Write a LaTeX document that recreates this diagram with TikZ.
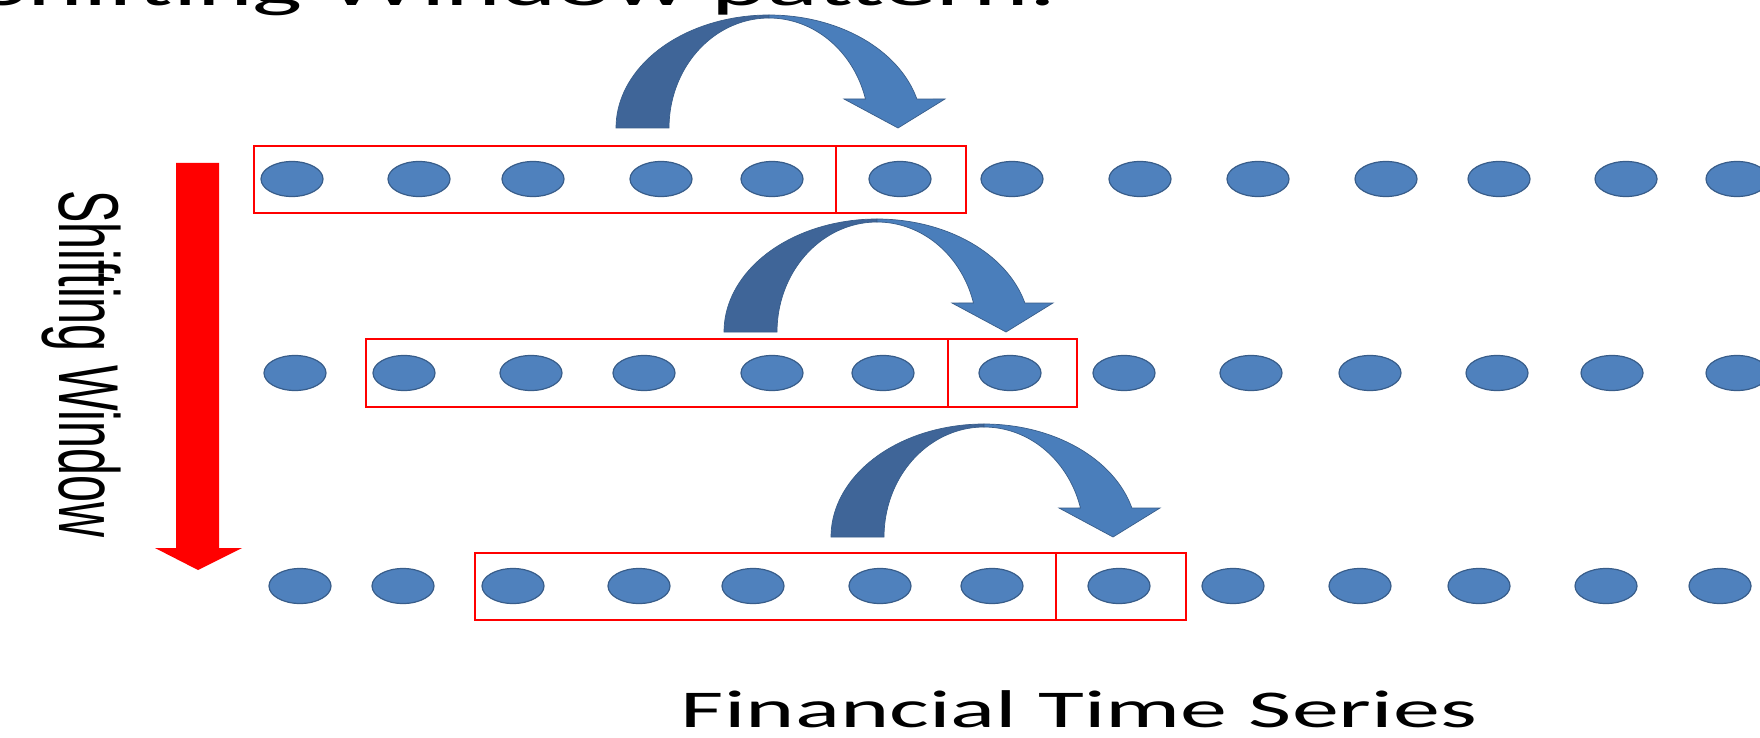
\documentclass[tikz,border=0pt]{standalone}
\usepackage{fontspec}
\setmainfont{Carlito}
\newfontfamily\narrowsans{Liberation Sans}
\usetikzlibrary{shapes.geometric}

\definecolor{ptfill}{HTML}{4F81BD}
\definecolor{ptline}{HTML}{385D8A}
\definecolor{arrowdark}{HTML}{3F6598}
\definecolor{arrowlight}{HTML}{4A7EBB}
\definecolor{winred}{HTML}{FF0000}

% the whole slide is flattened vertically
\newcommand\squashtext[1]{\scalebox{1}[0.565]{#1}}

\tikzset{
  pt/.style={ellipse, fill=ptfill, draw=ptline, line width=1.2pt,
             minimum width=62pt, minimum height=35pt, inner sep=0pt},
  winbox/.style={draw=winred, line width=1.8pt},
  hopdark/.style={fill=arrowdark, draw=ptline, line width=0.7pt},
  hoplight/.style={fill=arrowlight, draw=ptline, line width=0.7pt},
}

% curved "hop" arrow: #1 = centre x of the arch, #2 = baseline y of the tail
\newcommand\hoparrow[2]{%
  \filldraw[hopdark]
    plot[domain=180:270, samples=40] ({#1+153*cos(\x)},{#2+113*sin(\x)})
    -- plot[domain=270:180, samples=40] ({#1+100*cos(\x)},{#2+110*sin(\x)})
    -- cycle;
  \filldraw[hoplight]
    plot[domain=270:345.13, samples=40] ({#1+153*cos(\x)},{#2+113*sin(\x)})
    -- (#1+176,#2-29) -- (#1+129,#2) -- (#1+75,#2-29)
    -- plot[domain=344.71:270, samples=40] ({#1+100*cos(\x)},{#2+110*sin(\x)})
    -- cycle;
}

\begin{document}
\begin{tikzpicture}[x=1pt, y=-1pt]
  \useasboundingbox (0,0) rectangle (1760,738);
  \clip (0,0) rectangle (1760,738);
  \fill[white] (0,0) rectangle (1760,738);

  % three rows of the time series
  \foreach \px [count=\i] in {292,419,533,661,772,900,1012,1140,1258,1386,1499,1626,1737}
    \node[pt] (a\i) at (\px,179) {};
  \foreach \px [count=\i] in {295,404,531,644,772,883,1010,1124,1251,1370,1497,1612,1737}
    \node[pt] (b\i) at (\px,373) {};
  \foreach \px [count=\i] in {300,403,513,639,753,880,992,1119,1233,1360,1479,1606,1720}
    \node[pt] (c\i) at (\px,586) {};

  % input window and target box of each row
  \draw[winbox] (254,146) rectangle (966,213);
  \draw[winbox] (836,146) -- (836,213);
  \draw[winbox] (366,339) rectangle (1077,407);
  \draw[winbox] (948,339) -- (948,407);
  \draw[winbox] (475,553) rectangle (1186,620);
  \draw[winbox] (1056,553) -- (1056,620);

  % hop arrows above each window
  \hoparrow{769}{128}
  \hoparrow{877}{332}
  \hoparrow{984}{537}

  % heading
  \node[anchor=base west, inner sep=0pt]
    (heading) at (-21,6) {\squashtext{\fontsize{106}{106}\selectfont Shifting Window pattern.}};

  % downward shift arrow and its label
  \fill[winred] (176,163) -- (219,163) -- (219,548) -- (242,548) -- (198,570)
    -- (155,548) -- (176,548) -- cycle;
  \node[rotate=-90, anchor=base west, inner sep=0pt]
    (shiftlabel) at (59,190)
    {\narrowsans\fontsize{85}{85}\selectfont\scalebox{0.57}[1]{Shifting Window}};

  % axis caption
  \node[anchor=base, inner sep=0pt]
    (caption) at (1079,727) {\squashtext{\fontsize{94}{94}\selectfont Financial Time Series}};
\end{tikzpicture}
\end{document}
